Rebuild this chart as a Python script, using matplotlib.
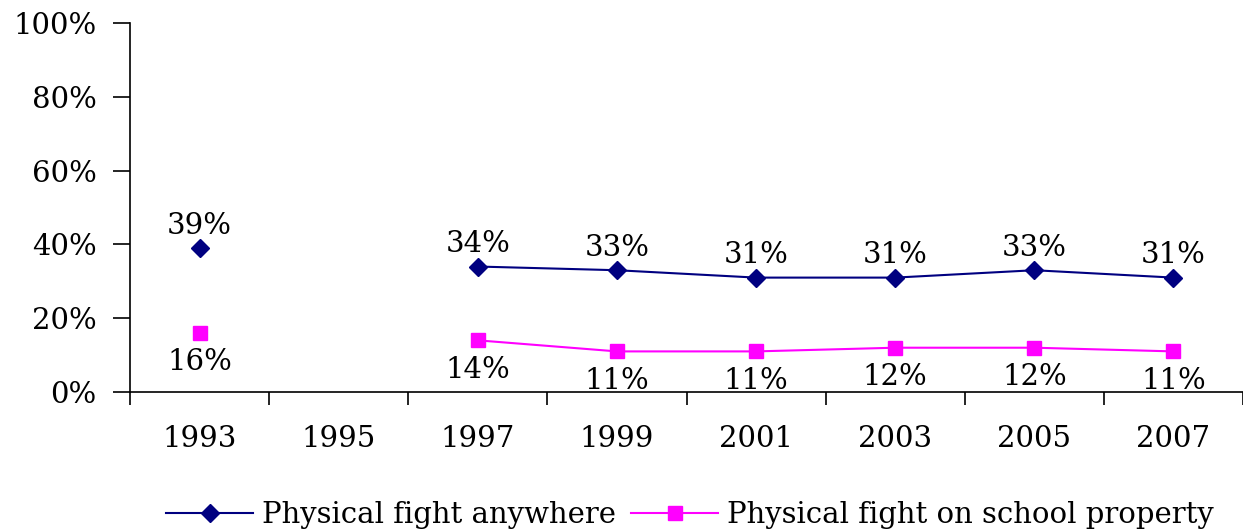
import matplotlib.pyplot as plt
import numpy as np

years = ['1993', '1995', '1997', '1999', '2001', '2003', '2005', '2007']
anywhere = [39, None, 34, 33, 31, 31, 33, 31]
school = [16, None, 14, 11, 11, 12, 12, 11]
yticks = [0, 20, 40, 60, 80, 100]

plt.rcParams['font.family'] = ['DejaVu Serif']
FS = 21

fig = plt.figure(figsize=(12.43, 5.29), dpi=100)
ax = fig.add_axes([0.1046, 0.259, 0.8954, 0.6975])

x = np.arange(len(years))
a = np.array([np.nan if v is None else v for v in anywhere], dtype=float)
s = np.array([np.nan if v is None else v for v in school], dtype=float)

ax.plot(x, a, color='#000080', marker='D', markersize=9, linewidth=1.5,
        label='Physical fight anywhere')
ax.plot(x, s, color='#FF00FF', marker='s', markersize=10, linewidth=1.5,
        label='Physical fight on school property')

for xi, v in zip(x, anywhere):
    if v is not None:
        ax.annotate(f'{v}%', (xi, v), xytext=(0, 6), textcoords='offset points',
                    ha='center', va='bottom', fontsize=FS)
for xi, v in zip(x, school):
    if v is not None:
        ax.annotate(f'{v}%', (xi, v), xytext=(0, -11), textcoords='offset points',
                    ha='center', va='top', fontsize=FS)

ax.set_xlim(-0.5, len(years) - 0.5)
ax.set_ylim(0, 100)
ax.set_yticks(yticks)
ax.set_yticklabels([f'{t}%' for t in yticks], fontsize=FS)
ax.tick_params(axis='y', length=12, width=1.2, pad=12)

ax.set_xticks(np.arange(len(years) + 1) - 0.5)
ax.set_xticklabels([])
ax.tick_params(axis='x', which='major', length=9, width=1.2)
ax.set_xticks(x, minor=True)
ax.set_xticklabels(years, minor=True, fontsize=FS)
ax.tick_params(axis='x', which='minor', length=0, pad=24)

for side in ['top', 'right']:
    ax.spines[side].set_visible(False)
ax.spines['left'].set_linewidth(1.2)
ax.spines['bottom'].set_linewidth(1.2)

fig.legend(loc='lower center', bbox_to_anchor=(0.555, -0.05), ncol=2, frameon=False,
           fontsize=FS, handlelength=3, columnspacing=0.5, handletextpad=0.3)

plt.savefig('out.png', dpi=100)
plt.close(fig)
